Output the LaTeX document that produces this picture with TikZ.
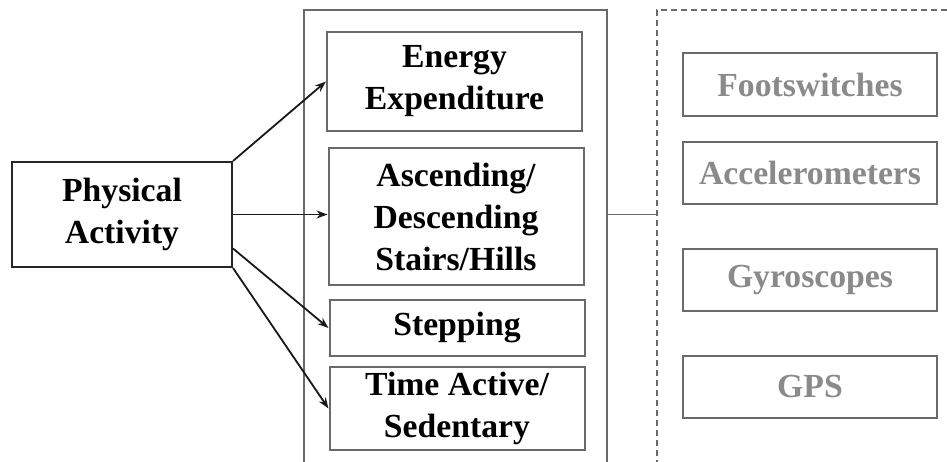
\documentclass[tikz,border=0pt]{standalone}
\usepackage{fontspec}
\setmainfont{Liberation Serif}
\usepackage{tikz}
\usetikzlibrary{arrows.meta,positioning}
\definecolor{framegray}{HTML}{6A6A6A}
\definecolor{sensorgray}{HTML}{8A8A8A}

\begin{document}
\begin{tikzpicture}[
  x=1pt,y=1pt,
  every node/.style={font=\fontsize{33.7}{42}\selectfont\bfseries},
  pabox/.style={draw=black!85,line width=2pt,align=center,inner sep=0pt,minimum width=220pt,minimum height=105pt},
  measure/.style={draw=framegray,line width=2pt,align=center,inner sep=0pt,minimum width=255pt},
  sensor/.style={draw=framegray,line width=2pt,align=center,inner sep=0pt,minimum width=254pt,minimum height=62pt,text=sensorgray},
  panel/.style={draw=framegray,line width=1.8pt,inner sep=0pt,minimum height=470pt},
  arrow/.style={-{Stealth[length=11pt,width=8pt]},line width=1.8pt,draw=black!90},
  link/.style={line width=1.8pt,draw=framegray}
]
\path[use as bounding box,clip] (0,0) rectangle (947,-461);
\node[panel,minimum width=303pt] (outer) at (455.5,-245) {};
\node[panel,dash pattern=on 6pt off 4pt,minimum width=310pt] (sensors) at (812,-245) {};
\node[pabox] (pa) at (122,-214.5) {Physical\\Activity};
\node[measure,minimum height=99pt] (energy) at (454.5,-81.5) {Energy\\Expenditure};
\node[measure,minimum height=137pt] (stairs) at (456,-216.5) {Ascending/\\Descending\\Stairs/Hills};
\node[measure,minimum height=56pt] (stepping) at (457,-328) {Stepping};
\node[measure,minimum height=83pt] (timeact) at (457,-408.5) {Time Active/\\Sedentary};
\node[sensor,minimum height=63pt] (foot) at (810,-84.5) {Footswitches};
\node[sensor] (accel) at (810,-173) {Accelerometers};
\node[sensor] (gyro) at (810,-280) {Gyroscopes};
\node[sensor] (gps) at (810,-387) {GPS};
\draw[arrow] (pa.north east) -- (energy.west);
\draw[arrow] (pa.east) -- (pa.east -| stairs.west);
\draw[arrow] ([yshift=-34pt]pa.east) -- (stepping.west);
\draw[arrow] (pa.south east) -- (timeact.west);
\draw[link] (pa.east -| outer.east) -- (pa.east -| sensors.west);
\end{tikzpicture}
\end{document}
